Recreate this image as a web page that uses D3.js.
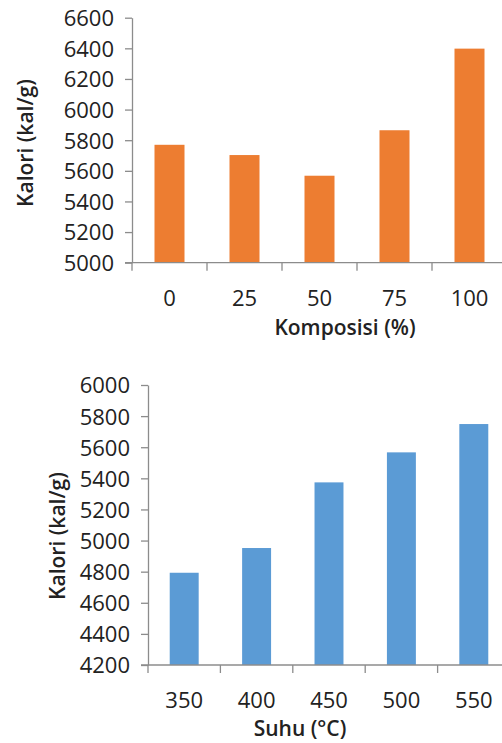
<!DOCTYPE html>
<html><head><meta charset="utf-8">
<script src="https://cdn.jsdelivr.net/npm/d3@7"></script>
<style>
body{margin:0;background:#fff;}
text{font-family:"Open Sans",sans-serif;fill:#222;}
</style></head>
<body><svg id="c" width="502" height="743"></svg>
<script>
const komposisi = ["0","25","50","75","100"];
const kaloriKomposisi = [5770, 5703, 5568, 5865, 6398];
const topTicks = [5000,5200,5400,5600,5800,6000,6200,6400,6600];

const suhu = ["350","400","450","500","550"];
const kaloriSuhu = [4793, 4952, 5374, 5567, 5749];
const bottomTicks = [4200,4400,4600,4800,5000,5200,5400,5600,5800,6000];

const svg = d3.select("#c");
const axisColor = "#8c8c8c";

function drawChart(o){
  const g = svg.append("g");
  const x = d3.scaleBand().domain(o.cats).range([o.x0, o.x1]).paddingInner(0.6).paddingOuter(0.3);
  const y = d3.scaleLinear().domain(o.domain).range([o.y0, o.y1]);
  // y axis
  const ya = g.append("g").attr("transform",`translate(${o.x0},0)`)
    .call(d3.axisLeft(y).tickValues(o.ticks).tickSize(7).tickSizeOuter(0).tickPadding(11).tickFormat(d3.format("d")));
  ya.select(".domain").attr("stroke",axisColor).attr("stroke-width",1.3);
  ya.selectAll(".tick line").attr("stroke",axisColor).attr("stroke-width",1.3);
  ya.selectAll(".tick text").style("font-size","22px").attr("fill","#222").attr("dy","0.36em");
  // bars
  g.selectAll("rect").data(o.vals).join("rect")
    .attr("x",(d,i)=>x(o.cats[i])).attr("width",x.bandwidth())
    .attr("y",d=>y(d)).attr("height",d=>y(o.domain[0])-y(d))
    .attr("fill",o.color);
  // x axis line
  g.append("line").attr("x1",o.x0-7).attr("x2",502).attr("y1",o.y0).attr("y2",o.y0)
    .attr("stroke",axisColor).attr("stroke-width",1.3);
  // x ticks at band boundaries
  const bounds = d3.range(o.cats.length+1).map(i=>o.x0+i*x.step());
  g.selectAll("line.xt").data(bounds).join("line").attr("class","xt")
    .attr("x1",d=>d).attr("x2",d=>d).attr("y1",o.y0).attr("y2",o.y0+8)
    .attr("stroke",axisColor).attr("stroke-width",1.3);
  g.selectAll("text.xl").data(o.cats).join("text").attr("class","xl")
    .attr("x",d=>x(d)+x.bandwidth()/2).attr("y",o.y0+35).attr("dy","0.36em")
    .attr("text-anchor","middle").style("font-size","22px").text(d=>d);
  g.append("text").attr("x",o.xtX).attr("y",o.xtY).attr("dy","0.36em").attr("text-anchor","middle")
    .style("font-size","21px").style("font-weight","600").attr("fill","#111").text(o.xTitle);
  g.append("text").attr("transform",`translate(${o.ytX},${o.ytY}) rotate(-90)`).attr("dy","0.36em")
    .attr("text-anchor","middle").style("font-size","21px").style("font-weight","600").attr("fill","#111").text("Kalori (kal/g)");
}

drawChart({cats:komposisi, vals:kaloriKomposisi, ticks:topTicks, domain:[5000,6600],
  x0:132, x1:507, y0:262.7, y1:17.7, color:"#ED7D31",
  xTitle:"Komposisi (%)", xtX:345, xtY:327, ytX:25, ytY:143});

drawChart({cats:suhu, vals:kaloriSuhu, ticks:bottomTicks, domain:[4200,6000],
  x0:148, x1:510, y0:665, y1:385, color:"#5B9BD5",
  xTitle:"Suhu (°C)", xtX:300, xtY:728, ytX:57, ytY:536});
</script></body></html>
